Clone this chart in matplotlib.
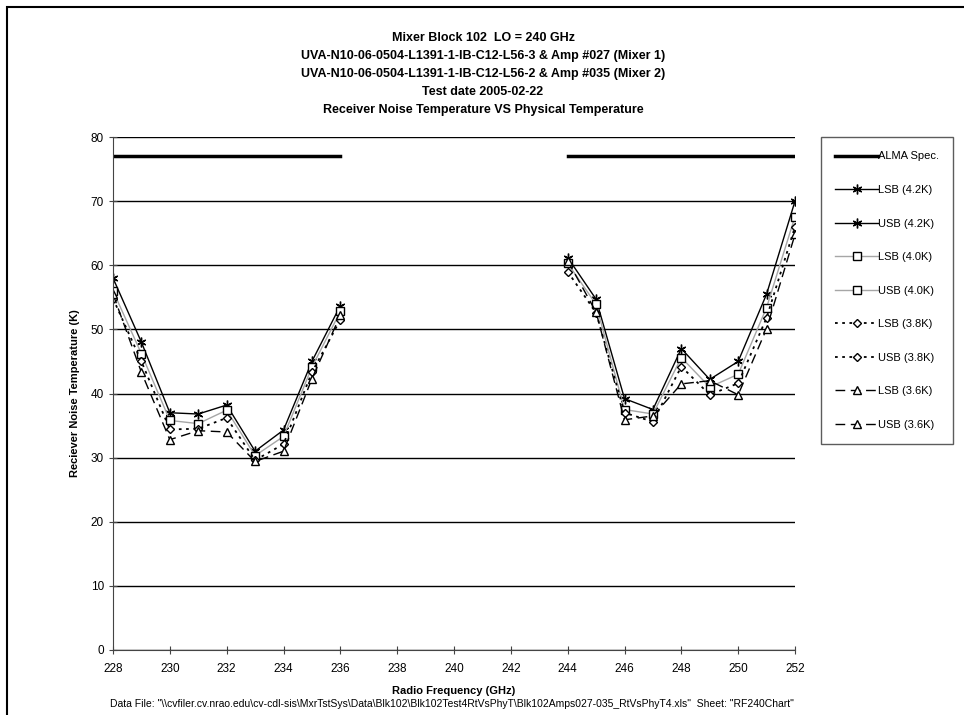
import matplotlib
matplotlib.use("Agg")
import matplotlib.pyplot as plt
from matplotlib.patches import Rectangle

plt.rcParams['font.family'] = ['Liberation Sans', 'DejaVu Sans']

lsb_freq = [228, 229, 230, 231, 232, 233, 234, 235, 236]
usb_freq = [244, 245, 246, 247, 248, 249, 250, 251, 252]

lsb_42 = [58.0, 48.0, 37.0, 36.8, 38.2, 31.0, 34.3, 45.0, 53.7]
usb_42 = [61.2, 54.7, 39.2, 37.5, 47.0, 42.2, 45.0, 55.5, 70.0]
lsb_40 = [56.0, 46.2, 35.8, 35.3, 37.4, 30.3, 33.3, 44.1, 52.8]
usb_40 = [60.3, 53.9, 37.5, 36.8, 45.6, 41.0, 43.0, 53.4, 67.6]
lsb_38 = [54.8, 45.0, 34.4, 34.5, 36.2, 29.6, 32.1, 43.3, 51.5]
usb_38 = [59.0, 52.6, 37.0, 35.6, 44.2, 39.8, 41.6, 51.8, 66.0]
lsb_36 = [55.5, 43.3, 32.8, 34.2, 34.0, 29.4, 31.0, 42.3, 52.2]
usb_36 = [60.7, 52.7, 35.9, 36.5, 41.5, 42.0, 39.8, 50.1, 64.8]

alma_lsb_freq = [228, 236]
alma_usb_freq = [244, 252]
alma_spec = 77

title_lines = [
    "Mixer Block 102  LO = 240 GHz",
    "UVA-N10-06-0504-L1391-1-IB-C12-L56-3 & Amp #027 (Mixer 1)",
    "UVA-N10-06-0504-L1391-1-IB-C12-L56-2 & Amp #035 (Mixer 2)",
    "Test date 2005-02-22",
    "Receiver Noise Temperature VS Physical Temperature",
]
footer = ('Data File: "\\\\cvfiler.cv.nrao.edu\\cv-cdl-sis\\MxrTstSys\\Data\\Blk102\\Blk102Test4RtVsPhyT'
          '\\Blk102Amps027-035_RtVsPhyT4.xls"  Sheet: "RF240Chart"')

W, H = 964, 715
fig = plt.figure(figsize=(W / 100, H / 100), dpi=100)
ax = fig.add_axes([113 / W, 1 - 650 / H, (795 - 113) / W, (650 - 137) / H])

# frame around chart
fig.patches.append(Rectangle((7 / W, -0.1), 1.2, 1 - 7 / H + 0.1, transform=fig.transFigure,
                             fill=False, edgecolor='black', linewidth=1.5))

handles = []
h, = ax.plot(alma_lsb_freq, [alma_spec] * 2, color='black', lw=2.5, label='ALMA Spec.')
ax.plot(alma_usb_freq, [alma_spec] * 2, color='black', lw=2.5)
handles.append(h)

star = (6, 2, 0)
styles = [
    (lsb_42, usb_42, '4.2K', dict(color='black', lw=1.0, ls='-', marker=star, ms=7, mec='black', mew=1.0)),
    (lsb_40, usb_40, '4.0K', dict(color='#a6a6a6', lw=1.0, ls='-', marker='s', ms=5.5, mfc='white', mec='black', mew=1.0)),
    (lsb_38, usb_38, '3.8K', dict(color='black', lw=1.3, ls=(0, (1.5, 2.5)), marker='D', ms=4.5, mfc='white', mec='black', mew=1.0)),
    (lsb_36, usb_36, '3.6K', dict(color='black', lw=1.0, ls=(0, (7, 4)), marker='^', ms=5.5, mfc='white', mec='black', mew=1.0)),
]
for lsb, usb, lab, st in styles:
    h1, = ax.plot(lsb_freq, lsb, label=f'LSB ({lab})', **st)
    h2, = ax.plot(usb_freq, usb, label=f'USB ({lab})', **st)
    handles.extend([h1, h2])

ax.set_xlim(228, 252)
ax.set_ylim(0, 80)
ax.set_xticks(range(228, 253, 2))
ax.set_yticks(range(0, 81, 10))
ax.yaxis.grid(True, color='black', lw=1.0)
ax.set_axisbelow(True)
for s in ['top', 'right']:
    ax.spines[s].set_visible(False)
ax.spines['left'].set_color('#444444')
ax.spines['bottom'].set_color('#444444')
ax.tick_params(axis='both', direction='inout', length=6, labelsize=8.5, color='#444444')
ax.tick_params(axis='x', pad=6)
ax.set_xlabel('Radio Frequency (GHz)', fontsize=8, fontweight='bold', labelpad=8)
ax.set_ylabel('Reciever Noise Temperature (K)', fontsize=8, fontweight='bold', labelpad=8)

for i, t in enumerate(title_lines):
    fig.text(483 / W, 1 - (38 + 18 * i) / H, t, ha='center', va='center',
             fontsize=9, fontweight='bold')

fig.text(452 / W, 1 - 704 / H, footer, ha='center', va='center', fontsize=7.5)

leg = fig.legend(handles=handles, loc='upper left', bbox_to_anchor=(821 / W, 1 - 137 / H),
                 fontsize=8, frameon=True, fancybox=False, handlelength=3.8,
                 labelspacing=2.12, borderpad=1.3, handletextpad=0.0, borderaxespad=0)
leg.get_frame().set_edgecolor('#333333')
leg.get_frame().set_linewidth(1.0)

fig.savefig('out.png', dpi=100)
